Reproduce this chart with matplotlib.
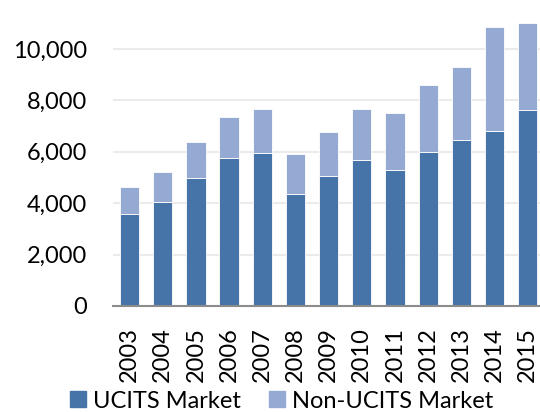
import matplotlib
matplotlib.use("Agg")
import matplotlib.pyplot as plt
from matplotlib.ticker import FuncFormatter
from matplotlib.patches import Patch
import numpy as np

plt.rcParams['font.family'] = ['Lato', 'DejaVu Sans']

years = ["2003", "2004", "2005", "2006", "2007", "2008", "2009",
         "2010", "2011", "2012", "2013", "2014", "2015"]
ucits = [3590, 4060, 4990, 5770, 5965, 4370, 5070, 5680, 5300, 6005, 6445, 6810, 7640]
total = [4630, 5200, 6380, 7340, 7665, 5900, 6770, 7650, 7520, 8585, 9300, 10855, 11010]
non_ucits = [t - u for t, u in zip(total, ucits)]

dark_blue = "#4674A8"
light_blue = "#95AAD2"

fig = plt.figure(figsize=(5.40, 4.12), dpi=100)
ax = fig.add_axes([112.9 / 540, 1 - 306 / 412, 431.5 / 540, 305.8 / 412])

x = np.arange(len(years))
ax.bar(x, ucits, width=0.58, color=dark_blue, edgecolor="white", linewidth=0.6, zorder=3)
ax.bar(x, non_ucits, bottom=ucits, width=0.58, color=light_blue,
       edgecolor="white", linewidth=0.6, zorder=3)

ax.set_xlim(-0.5, 12.5)
ax.set_ylim(0, 11900)
ax.set_yticks(range(0, 10001, 2000))
ax.yaxis.set_major_formatter(FuncFormatter(lambda v, p: f"{int(v):,}"))
ax.set_xticks(x)
ax.set_xticklabels(years, rotation=90)
ax.tick_params(axis="both", length=0, labelsize=17)
ax.tick_params(axis="y", pad=18.5)
ax.tick_params(axis="x", pad=15)

ax.grid(axis="y", color="#EBEBEB", linewidth=1.5, zorder=0)
for side in ["top", "right", "left"]:
    ax.spines[side].set_visible(False)
ax.spines["bottom"].set_color("#8C8C8C")
ax.spines["bottom"].set_linewidth(1.5)
ax.spines["bottom"].set_zorder(4)

handles = [Patch(color=dark_blue, label="UCITS Market"),
           Patch(color=light_blue, label="Non-UCITS Market")]
fig.legend(handles=handles, ncol=2, loc="center", bbox_to_anchor=(0.522, 1 - 401 / 412),
           frameon=False, fontsize=17, handlelength=0.68, handleheight=0.68,
           handletextpad=0.3, columnspacing=1.2, borderpad=0, borderaxespad=0)

fig.savefig("out.png", dpi=100)
